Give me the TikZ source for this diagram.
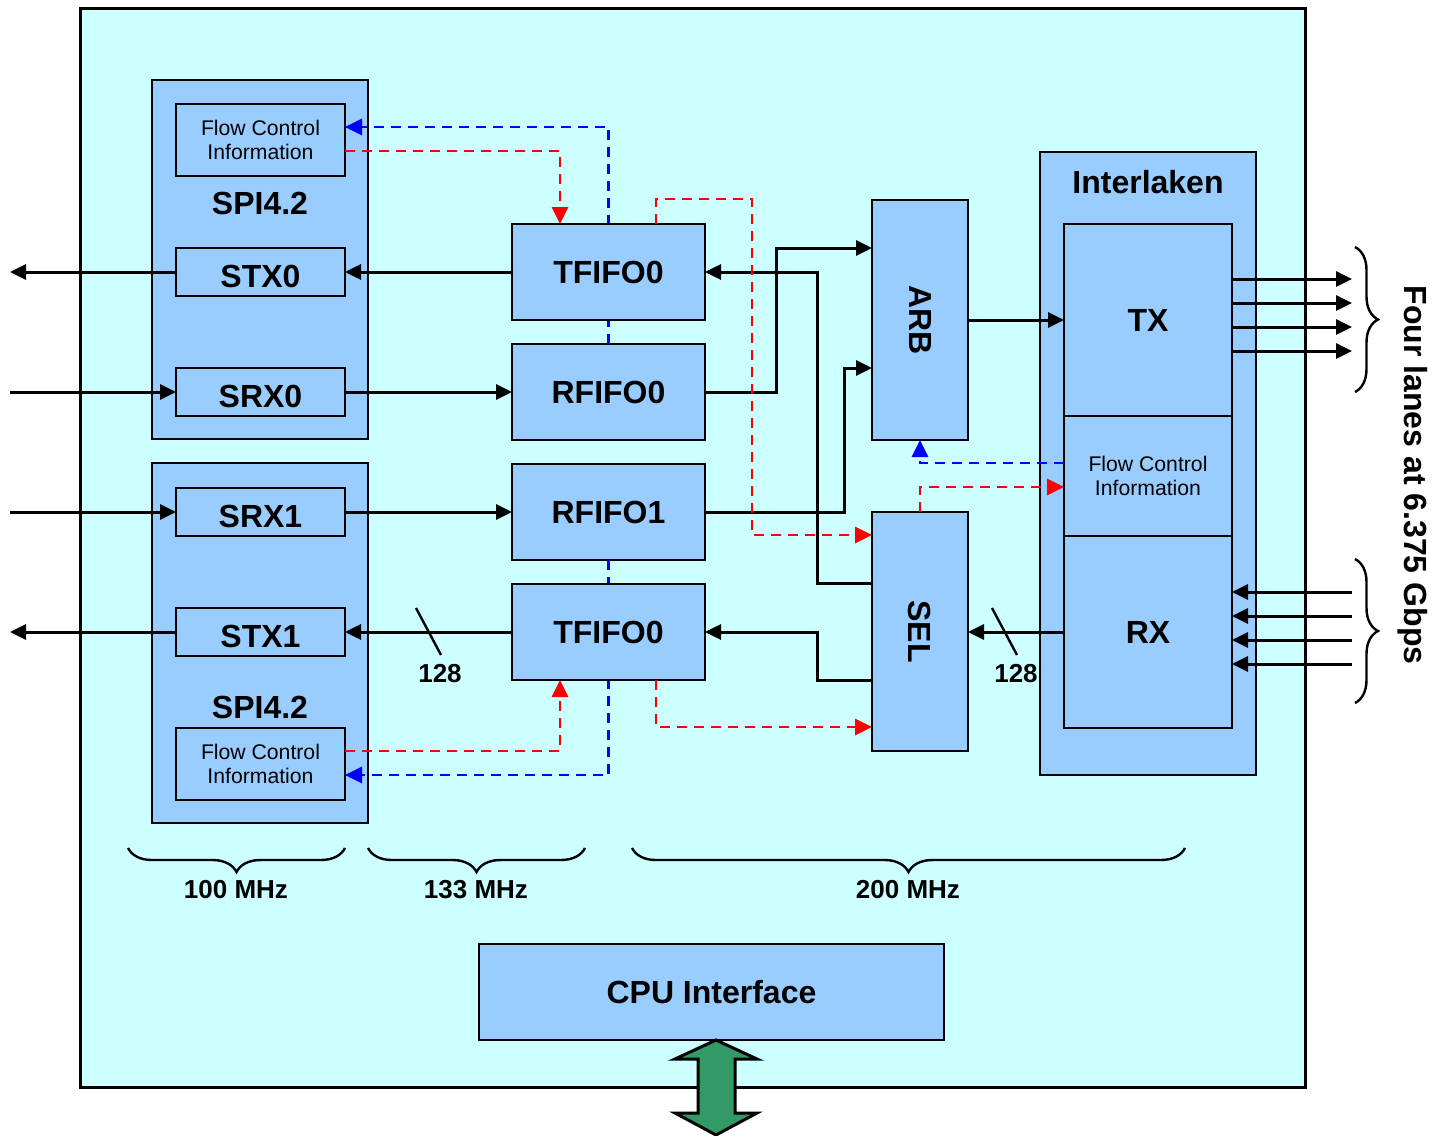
\documentclass[tikz,border=0pt]{standalone}
\usepackage{fontspec}
\setmainfont{Liberation Sans}
\usetikzlibrary{arrows.meta,decorations.pathreplacing,calc}
\pgfdeclarelayer{bgA}
\pgfsetlayers{bgA,main}
\definecolor{chipc}{RGB}{204,255,255}
\definecolor{boxc}{RGB}{153,204,255}
\definecolor{arrg}{RGB}{51,153,102}
\begin{document}
\begin{tikzpicture}[x=0.5pt,y=-0.5pt,
 box/.style 2 args={draw=black, line width=1pt, fill=boxc, inner sep=0pt, outer sep=0pt, minimum width=#1*0.5pt, minimum height=#2*0.5pt},
 big/.style={font=\fontsize{16}{19}\selectfont\bfseries},
 lowtext/.style={text height=15.5pt},
 small/.style={font=\fontsize{10.6}{12}\selectfont, align=center},
 lbl/.style={font=\fontsize{13}{15}\selectfont\bfseries},
 conn/.style={line width=1.5pt, -{Triangle[length=8pt,width=7.5pt]}},
 rdash/.style={draw=red, line width=1.4pt, dash pattern=on 5pt off 3.5pt, -{Triangle[length=8.5pt,width=8pt]}},
 bdash/.style={draw=blue, line width=1.4pt, dash pattern=on 5pt off 3.5pt, -{Triangle[length=8.5pt,width=8pt]}},
 brc/.style={decorate, decoration={brace, amplitude=12pt}, line width=1.2pt},
 slash/.style={line width=1.2pt}
]
\useasboundingbox (0,0) rectangle (1447,1136);
\begin{pgfonlayer}{bgA}
\node[draw=black, line width=1.5pt, fill=chipc, inner sep=0pt, outer sep=0pt, minimum width=1225*0.5pt, minimum height=1079*0.5pt] (chip) at (692.5,547.5) {};
\end{pgfonlayer}

% SPI blocks
\node[box={216}{359}] (spiA) at (260,259.5) {};
\node[box={169}{72}, small] (fciA) at (260.5,140) {Flow Control\\Information};
\node[big] (spiAl) at (260,203) {SPI4.2};
\node[box={169}{48}, big, lowtext] (stx0) at (260.5,272) {STX0};
\node[box={169}{48}, big, lowtext] (srx0) at (260.5,392) {SRX0};

\node[box={216}{360}] (spiB) at (260,643) {};
\node[box={169}{48}, big, lowtext] (srx1) at (260.5,512) {SRX1};
\node[box={169}{48}, big, lowtext] (stx1) at (260.5,632) {STX1};
\node[big] (spiBl) at (260,707) {SPI4.2};
\node[box={169}{72}, small] (fciB) at (260.5,764) {Flow Control\\Information};

% receive FIFOs
\node[box={193}{96}, big] (rf0) at (608.5,392) {RFIFO0};
\node[box={193}{96}, big] (rf1) at (608.5,512) {RFIFO1};

% blue flow control paths passing behind the transmit FIFOs
\coordinate (d1) at (608,127);
\coordinate (d5) at (608,775);
\draw[bdash] (rf0.north) -- (rf0.north |- d1) -- (d1 -| fciA.east);
\draw[bdash] (rf1.south) -- (rf1.south |- d5) -- (d5 -| fciB.east);

% transmit FIFOs
\node[box={193}{96}, big] (tf0) at (608.5,272) {TFIFO0};
\node[box={193}{96}, big] (tf1) at (608.5,632) {TFIFO0};

% ARB / SEL
\node[box={96}{240}] (arb) at (920,320) {};
\node[big, rotate=-90] (arbl) at (920,320) {ARB};
\node[box={96}{239}] (sel) at (920,631.5) {};
\node[big, rotate=-90] (sell) at (920,631.5) {SEL};

% Interlaken
\node[box={216}{623}] (ilk) at (1148,463.5) {};
\node[big] (ilkl) at (1148,182) {Interlaken};
\node[box={168}{192}, big] (tx) at (1148,320) {TX};
\node[box={168}{120}, small] (fci) at (1148,476) {Flow Control\\Information};
\node[box={168}{192}, big] (rx) at (1148,632) {RX};

% CPU
\node[box={465}{96}, big] (cpu) at (711.5,992) {CPU Interface};
\draw[fill=arrg, line width=1.5pt] (716,1040) -- (757,1059) -- (735,1059) -- (735,1113) -- (757,1113) -- (716,1135) -- (675,1113) -- (698,1113) -- (698,1059) -- (675,1059) -- cycle;

% outside connections left
\coordinate (o1) at (10,272);
\coordinate (o2) at (10,392);
\coordinate (o3) at (10,512);
\coordinate (o4) at (10,632);
\draw[conn] (stx0.west) -- (o1);
\draw[conn] (o2) -- (srx0.west);
\draw[conn] (o3) -- (srx1.west);
\draw[conn] (stx1.west) -- (o4);

% SPI <-> FIFO
\draw[conn] (tf0.west) -- (stx0.east);
\draw[conn] (srx0.east) -- (rf0.west);
\draw[conn] (srx1.east) -- (rf1.west);
\draw[conn] (tf1.west) -- (stx1.east);
\draw[slash] (416,608) -- (441,655);
\node[lbl] (w1) at (440,674) {128};

% FIFO <-> ARB/SEL
\coordinate (b1) at (776,248);
\coordinate (b2) at (844,368);
\coordinate (b3) at (817,583);
\coordinate (b4) at (817,680);
\draw[conn] (rf0.east) -| (b1) -- (b1 -| arb.west);
\draw[conn] (rf1.east) -| (b2) -- (b2 -| arb.west);
\draw[conn] (b3 -| sel.west) -- (b3) |- (tf0.east);
\draw[conn] (b4 -| sel.west) -- (b4) |- (tf1.east);

% ARB/SEL <-> Interlaken
\draw[conn] (arb.east) -- (arb.east -| tx.west);
\draw[conn] (rx.west) -- (rx.west -| sel.east);
\draw[slash] (992,608) -- (1017,655);
\node[lbl] (w2) at (1016,674) {128};

% lanes
\foreach \yy [count=\i] in {279,303,327,351} {
  \coordinate (to\i) at (1352,\yy);
  \draw[conn] (tx.east |- to\i) -- (to\i);
}
\foreach \yy [count=\i] in {592,616,640,664} {
  \coordinate (ri\i) at (1352,\yy);
  \draw[conn] (ri\i) -- (ri\i -| rx.east);
}
\coordinate (bt1) at (1355,247);
\coordinate (bt2) at (1355,392);
\coordinate (bt3) at (1355,559);
\coordinate (bt4) at (1355,703);
\draw[brc, decoration={amplitude=11.5pt}] (bt1) -- (bt2);
\draw[brc, decoration={amplitude=11.5pt}] (bt3) -- (bt4);
\node[big, rotate=-90] (lanes) at (1413,475) {Four lanes at 6.375 Gbps};

% red / blue flow control
\coordinate (d2) at (560,151);
\coordinate (d3) at (656,199);
\coordinate (d4) at (752,535);
\coordinate (d6) at (560,751);
\coordinate (d7) at (656,727);
\coordinate (d8) at (920,487);
\coordinate (d9) at (920,463);
\draw[rdash] (d2 -| fciA.east) -- (d2) -- (d2 |- tf0.north);
\draw[rdash] (d3 |- tf0.north) -- (d3) -| (d4) -- (d4 -| sel.west);
\draw[rdash] (d6 -| fciB.east) -- (d6) -- (d6 |- tf1.south);
\draw[rdash] (d7 |- tf1.south) -- (d7) -- (d7 -| sel.west);
\draw[rdash] (sel.north) -- (d8) -- (d8 -| fci.west);
\draw[bdash] (d9 -| fci.west) -- (d9) -- (arb.south);

% clock domains
\coordinate (c1) at (345,848);
\coordinate (c2) at (128,848);
\coordinate (c3) at (585,848);
\coordinate (c4) at (368,848);
\coordinate (c5) at (1185,848);
\coordinate (c6) at (632,848);
\draw[brc] (c1) -- (c2);
\draw[brc] (c3) -- (c4);
\draw[brc] (c5) -- (c6);
\node[lbl] (f1) at (236,890) {100 MHz};
\node[lbl] (f2) at (476,890) {133 MHz};
\node[lbl] (f3) at (908,890) {200 MHz};
\end{tikzpicture}
\end{document}
